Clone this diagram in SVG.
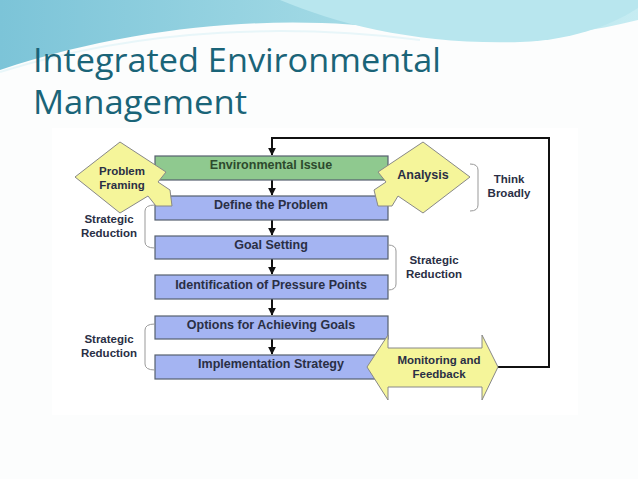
<svg xmlns="http://www.w3.org/2000/svg" width="638" height="479" viewBox="0 0 638 479">
<defs>
<linearGradient id="sky" x1="0" y1="0" x2="1" y2="0"><stop offset="0" stop-color="#7cc4d8"/><stop offset="0.5" stop-color="#9fd8e4"/><stop offset="1" stop-color="#c6ecf2"/></linearGradient>
<marker id="ah" viewBox="0 0 10 10" refX="9" refY="5" markerWidth="4" markerHeight="4" orient="auto"><path d="M0,0 L10,5 L0,10 z" fill="#111"/></marker>
<style>
.box{fill:#a4b4f2;stroke:#56606e;stroke-width:1.2}
.t{font-family:"Liberation Sans",Arial,sans-serif;font-weight:bold;font-size:12.5px;fill:#2a2f45;text-anchor:middle}
.s{font-size:11.5px}
.y{fill:#f5f59a;stroke:#888;stroke-width:1}
.br{fill:none;stroke:#999;stroke-width:1}
.c{stroke:#111;stroke-width:2;fill:none}
</style>
</defs>
<rect width="638" height="479" fill="#fcfdfd"/>
<path d="M0,0 H638 V20 C560,40 480,42 400,30 C300,15 150,20 0,70 Z" fill="url(#sky)"/>
<path d="M280,0 C340,25 420,45 520,42 C580,40 620,20 638,8 V0 Z" fill="#b8e6ee"/>
<path d="M0,72 C150,25 300,25 420,40" fill="none" stroke="#e8f6f9" stroke-width="2"/>
<text x="33" y="72" font-family="Open Sans,Liberation Sans,sans-serif" font-size="33" fill="#1a6478" textLength="408" lengthAdjust="spacingAndGlyphs">Integrated Environmental</text>
<text x="33" y="114" font-family="Open Sans,Liberation Sans,sans-serif" font-size="33" fill="#1a6478" textLength="214" lengthAdjust="spacingAndGlyphs">Management</text>
<rect x="52" y="128" width="526" height="287" fill="#fff"/>
<g id="connectors">
<path class="c" d="M498,367 H549 V138 H272 V155" marker-end="url(#ah)"/>
<path class="c" d="M272,180 V195" marker-end="url(#ah)"/>
<path class="c" d="M272,220 V235" marker-end="url(#ah)"/>
<path class="c" d="M272,259 V274" marker-end="url(#ah)"/>
<path class="c" d="M272,299 V315" marker-end="url(#ah)"/>
<path class="c" d="M272,339 V354" marker-end="url(#ah)"/>
</g>
<g id="env"><rect x="155" y="156" width="233" height="24" fill="#8fc98f" stroke="#56606e" stroke-width="1.2"/><text class="t" x="271" y="169" style="fill:#2d4a2d">Environmental Issue</text></g>
<g id="define"><rect class="box" x="155" y="196" width="233" height="24"/><text class="t" x="271" y="209">Define the Problem</text></g>
<g id="goal"><rect class="box" x="155" y="236" width="233" height="23"/><text class="t" x="271" y="249">Goal Setting</text></g>
<g id="pressure"><rect class="box" x="155" y="275" width="233" height="24"/><text class="t" x="271" y="289">Identification of Pressure Points</text></g>
<g id="options"><rect class="box" x="155" y="316" width="233" height="23"/><text class="t" x="271" y="329">Options for Achieving Goals</text></g>
<g id="impl"><rect class="box" x="155" y="355" width="233" height="24"/><text class="t" x="271" y="368">Implementation Strategy</text></g>
<g id="framing"><path class="y" d="M75,177 L120,142 L166,172 L158,182 L170,190 L172,206 L156,206 L148,196 L120,213 Z"/><text class="t s" x="122" y="175">Problem</text><text class="t s" x="122" y="189">Framing</text></g>
<g id="analysis"><path class="y" d="M470,177 L423,142 L378,172 L386,182 L374,190 L378,206 L392,206 L398,196 L423,213 Z"/><text class="t" x="423" y="179">Analysis</text></g>
<g id="monitor"><path class="y" d="M367,367 L388,335 L388,348 L482,348 L482,335 L498,367 L482,400 L482,387 L388,387 L388,400 Z"/><text class="t s" x="439" y="364">Monitoring and</text><text class="t s" x="439" y="378">Feedback</text></g>
<g id="brackets">
<path class="br" d="M470,164 Q478,164 478,170 V205 Q478,211 470,211"/>
<text class="t s" x="509" y="183">Think</text><text class="t s" x="509" y="197">Broadly</text>
<path class="br" d="M155,205 Q145,205 145,211 V242 Q145,248 155,248"/>
<text class="t s" x="109" y="223">Strategic</text><text class="t s" x="109" y="237">Reduction</text>
<path class="br" d="M388,245 Q396,245 396,251 V284 Q396,290 388,290"/>
<text class="t s" x="434" y="264">Strategic</text><text class="t s" x="434" y="278">Reduction</text>
<path class="br" d="M155,324 Q145,324 145,330 V364 Q145,370 155,370"/>
<text class="t s" x="109" y="343">Strategic</text><text class="t s" x="109" y="357">Reduction</text>
</g>
</svg>
